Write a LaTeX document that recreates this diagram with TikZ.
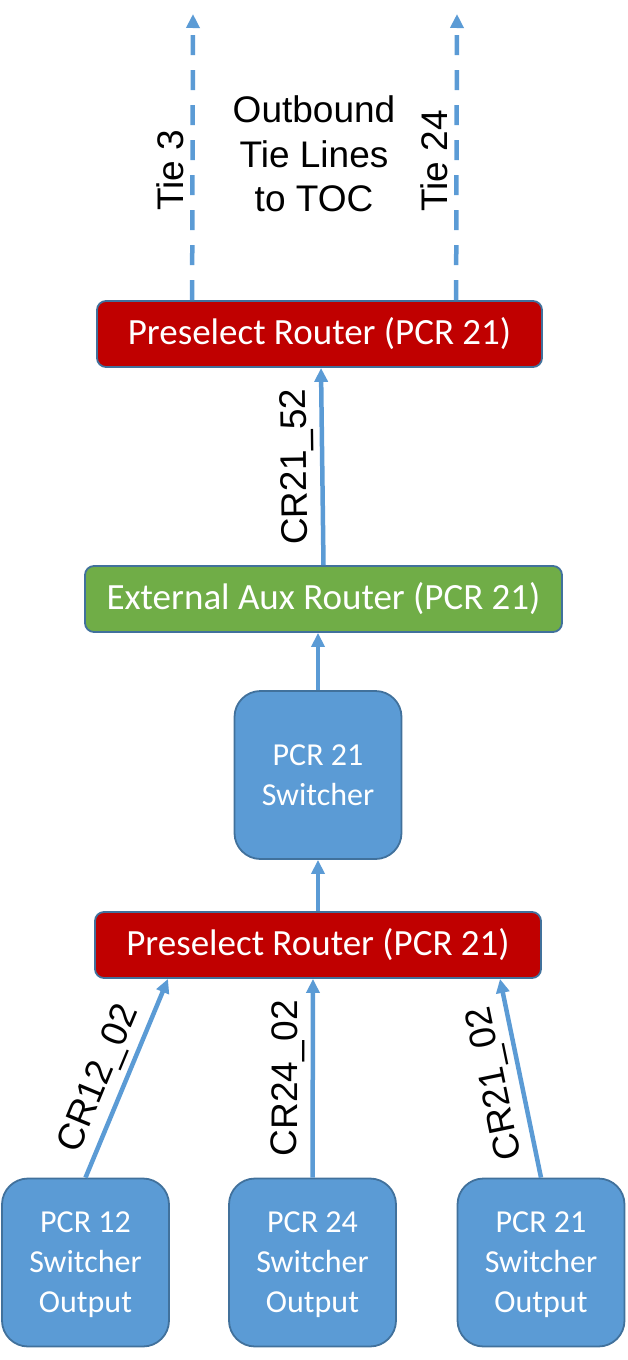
\documentclass[tikz,border=0pt]{standalone}
\usepackage{fontspec}
\setmainfont{Carlito}
\newfontfamily\arialf{Liberation Sans}
\usetikzlibrary{arrows.meta,calc}
\definecolor{lblue}{HTML}{5B9BD5}
\definecolor{bord}{HTML}{41719C}
\definecolor{rred}{HTML}{C00000}
\definecolor{ggreen}{HTML}{70AD47}
\begin{document}
\begin{tikzpicture}[x=1pt,y=-1pt,
  router/.style={draw=bord, line width=1.8pt, rounded corners=9pt, text=white,
    font=\fontsize{37}{44}\selectfont, inner sep=0pt, minimum height=66pt},
  swbox/.style={draw=bord, line width=1.8pt, fill=lblue, rounded corners=26pt, text=white,
    font=\fontsize{32}{40}\selectfont, align=center, inner sep=0pt,
    minimum width=167pt, minimum height=168pt, text depth=0pt},
  conn/.style={draw=lblue, line width=4.5pt, -{Triangle[width=13pt,length=14pt]}},
  tie/.style={conn, dash pattern=on 20pt off 15pt},
  lbl/.style={font=\arialf\fontsize{37}{44.5}\selectfont, inner sep=0pt},
  clbl/.style={lbl, sloped, above, midway, inner sep=6pt, allow upside down}
]
\useasboundingbox (0,0) rectangle (627,1360);

% boxes
\node[router, fill=rred, minimum width=445pt] (r1) at (319.5,334) {Preselect Router (PCR 21)};
\node[router, fill=ggreen, minimum width=477pt] (aux) at (323.5,599) {External Aux Router (PCR 21)};
\node[swbox] (sw) at (318,775) {PCR 21\\Switcher};
\node[router, fill=rred, minimum width=446pt] (r2) at (318,945) {Preselect Router (PCR 21)};
\node[swbox] (b1) at (85.5,1262.5) {PCR 12\\Switcher\\Output};
\node[swbox] (b2) at (312.5,1262.5) {PCR 24\\Switcher\\Output};
\node[swbox] (b3) at (541,1262.5) {PCR 21\\Switcher\\Output};

% top texts
\node[lbl, align=center] (ob) at (314,154) {Outbound\\Tie Lines\\to TOC};
\node[lbl, rotate=90, anchor=base west] (l3) at (183,211) {Tie 3};
\node[lbl, rotate=90, anchor=base west] (l24) at (447,212) {Tie 24};

% tie lines
\coordinate (t3) at (193,14);
\coordinate (t24) at (457,14);
\draw[tie] ($(r1.north west)+(96,0)$) -- (t3);
\draw[tie] ($(r1.north west)+(360,0)$) -- (t24);

% connectors
\draw[conn] (aux.north) -- ($(r1.south)+(1.5,0)$) node[clbl] (c52) {CR21\_52};
\draw[conn] (sw.north) -- (sw.north |- aux.south);
\draw[conn] (r2.north) -- (sw.south);
\draw[conn] (b1.north) -- ($(r2.south)+(-150,0)$) node[clbl, pos=0.45] (c12) {CR12\_02};
\draw[conn] (b2.north) -- ($(r2.south)+(-5,0)$) node[clbl] (c24) {CR24\_02};
\draw[conn] (b3.north) -- ($(r2.south)+(182,0)$) node[clbl] (c21) {CR21\_02};
\end{tikzpicture}
\end{document}
